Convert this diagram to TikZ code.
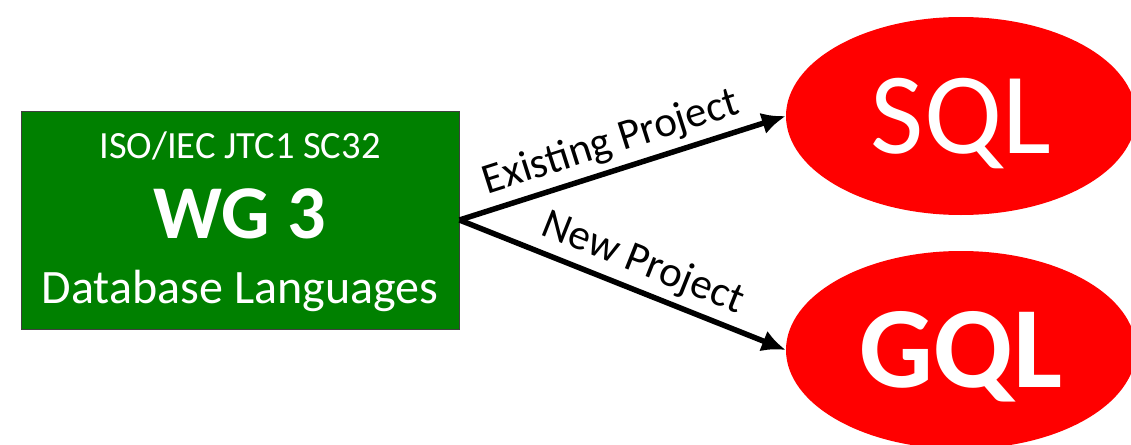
\documentclass[tikz,border=0pt]{standalone}
\usepackage{fontspec}
\setmainfont{Carlito}
\usetikzlibrary{shapes.geometric,arrows.meta}
\definecolor{wggreen}{RGB}{0,128,0}
\definecolor{langred}{RGB}{255,0,0}

\begin{document}
\begin{tikzpicture}[x=1pt,y=-1pt,
  langnode/.style={ellipse, fill=langred, text=white, minimum width=350pt, minimum height=198pt, inner sep=0pt, text height=75pt, text depth=0pt},
  boxtext/.style={anchor=base, text=white},
  flow/.style={line width=5.5pt, -{Latex[length=24pt,width=22pt]}},
  flowlabel/.style={sloped, above, inner sep=6pt, font=\fontsize{43}{43}\selectfont}]
\useasboundingbox (0,0) rectangle (1131,444);
% working group box
\node[draw=black!75, line width=1pt, fill=wggreen, minimum width=438pt, minimum height=218pt, inner sep=0pt] (wg) at (240,220) {};
\node[boxtext, font=\fontsize{38.5}{38.5}\selectfont] (iso) at (240,158) {ISO/IEC JTC1 SC32};
\node[boxtext, font=\fontsize{76}{76}\selectfont\bfseries] (wgno) at (240,238) {WG 3};
\node[boxtext, font=\fontsize{48}{48}\selectfont] (dbl) at (240,303) {Database Languages};
% languages
\node[langnode, font=\fontsize{116}{116}\selectfont] (sql) at (961,116) {SQL};
\node[langnode, font=\fontsize{116}{116}\selectfont\bfseries] (gql) at (961,350) {GQL};
\draw[flow] (wg.east) -- (sql.west) node[flowlabel, pos=.49] {Existing Project};
\draw[flow] (wg.east) -- (gql.west) node[flowlabel, pos=.53] {New Project};
\end{tikzpicture}
\end{document}
